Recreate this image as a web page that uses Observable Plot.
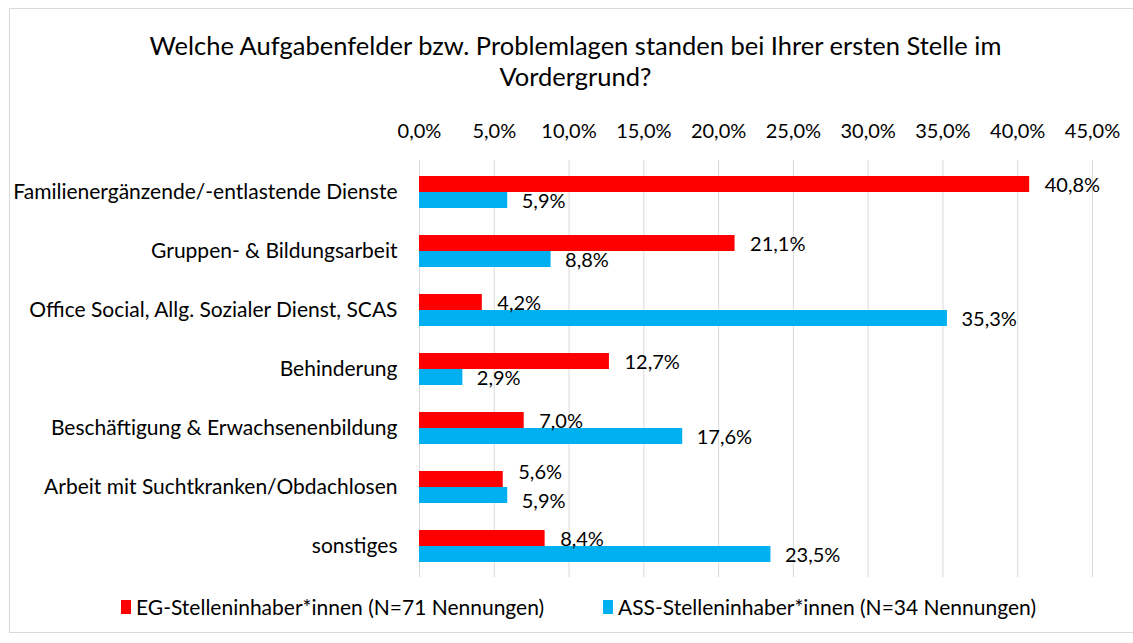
<!DOCTYPE html>
<html>
<head>
<meta charset="utf-8">
<script src="https://cdn.jsdelivr.net/npm/d3@7"></script>
<script src="https://cdn.jsdelivr.net/npm/@observablehq/plot@0.6"></script>
<style>
  html, body { margin: 0; padding: 0; background: #fff; }
  body { width: 1133px; height: 643px; overflow: hidden; position: relative; font-family: Lato, "Noto Sans", sans-serif; color: #000; }
  #frame { position: absolute; left: 9px; top: 8px; width: 1140px; height: 625px; border: 1px solid #d9d9d9; box-sizing: border-box; }
  #title { position: absolute; left: 9px; width: 1133px; top: 30px; text-align: center; font-size: 25.5px; line-height: 31px; }
  #chart { position: absolute; left: 0; top: 98px; line-height: 0; }
  #chart svg { display: block; }
  #legend { position: absolute; top: 594px; left: 0; width: 1133px; font-size: 21px; }
  .item { position: absolute; display: flex; align-items: center; }
  .sw { width: 10px; height: 14px; margin-right: 5px; }
</style>
</head>
<body>
<div id="frame"></div>
<div id="title">Welche Aufgabenfelder bzw. Problemlagen standen bei Ihrer ersten Stelle im<br>Vordergrund?</div>
<div id="chart"></div>
<div id="legend"></div>
<script>
const categories = [
  "Familienergänzende/-entlastende Dienste",
  "Gruppen- & Bildungsarbeit",
  "Office Social, Allg. Sozialer Dienst, SCAS",
  "Behinderung",
  "Beschäftigung & Erwachsenenbildung",
  "Arbeit mit Suchtkranken/Obdachlosen",
  "sonstiges"
];
const egValues  = [40.8, 21.1, 4.2, 12.7, 7.0, 5.6, 8.4];
const assValues = [5.9, 8.8, 35.3, 2.9, 17.6, 5.9, 23.5];
const seriesNames = ["EG-Stelleninhaber*innen (N=71 Nennungen)", "ASS-Stelleninhaber*innen (N=34 Nennungen)"];
const seriesColors = ["#FF0000", "#00B0F0"];
const xTicks = [0, 5, 10, 15, 20, 25, 30, 35, 40, 45];

const eg = categories.map((c, i) => ({category: c, value: egValues[i], close: Math.abs(egValues[i] - assValues[i]) < 3}));
const ass = categories.map((c, i) => ({category: c, value: assValues[i], close: Math.abs(egValues[i] - assValues[i]) < 3}));
const fmt = v => v.toFixed(1).replace(".", ",") + "%";
const lbl = {x: "value", y: "category", text: d => fmt(d.value), textAnchor: "start", fontSize: 20, fill: "#000"};

const chart = Plot.plot({
  width: 1133,
  height: 487,
  marginTop: 62,
  marginBottom: 8,
  marginLeft: 419,
  marginRight: 41,
  style: {fontFamily: "Lato, 'Noto Sans', sans-serif", fontSize: "20px", color: "#000", background: "transparent"},
  x: {domain: [0, 45], ticks: xTicks},
  y: {domain: categories, paddingInner: 0.463, paddingOuter: 0.2315, align: 0.5},
  marks: [
    Plot.gridX(xTicks, {stroke: "#d9d9d9", strokeOpacity: 1, strokeWidth: 1}),
    Plot.axisX(xTicks, {anchor: "top", tickSize: 0, tickPadding: 23, tickFormat: fmt, label: null, fontSize: 20}),
    Plot.axisY({tickSize: 0, tickPadding: 22, label: null, fontSize: 21}),
    Plot.barX(eg, {x: "value", y: "category", fill: seriesColors[0], insetBottom: 16}),
    Plot.barX(ass, {x: "value", y: "category", fill: seriesColors[1], insetTop: 16}),
    Plot.text(eg, {...lbl, filter: d => !d.close, dx: 15, dy: -7}),
    Plot.text(eg, {...lbl, filter: d => d.close, dx: 15, dy: -15}),
    Plot.text(ass, {...lbl, filter: d => !d.close, dx: 14, dy: 9}),
    Plot.text(ass, {...lbl, filter: d => d.close, dx: 14, dy: 14})
  ]
});
document.getElementById("chart").appendChild(chart);

const legend = document.getElementById("legend");
const lefts = [121, 603];
seriesNames.forEach((n, i) => {
  const it = document.createElement("div");
  it.className = "item";
  it.style.left = lefts[i] + "px";
  it.innerHTML = `<span class="sw" style="background:${seriesColors[i]}"></span><span>${n}</span>`;
  legend.appendChild(it);
});
</script>
</body>
</html>
